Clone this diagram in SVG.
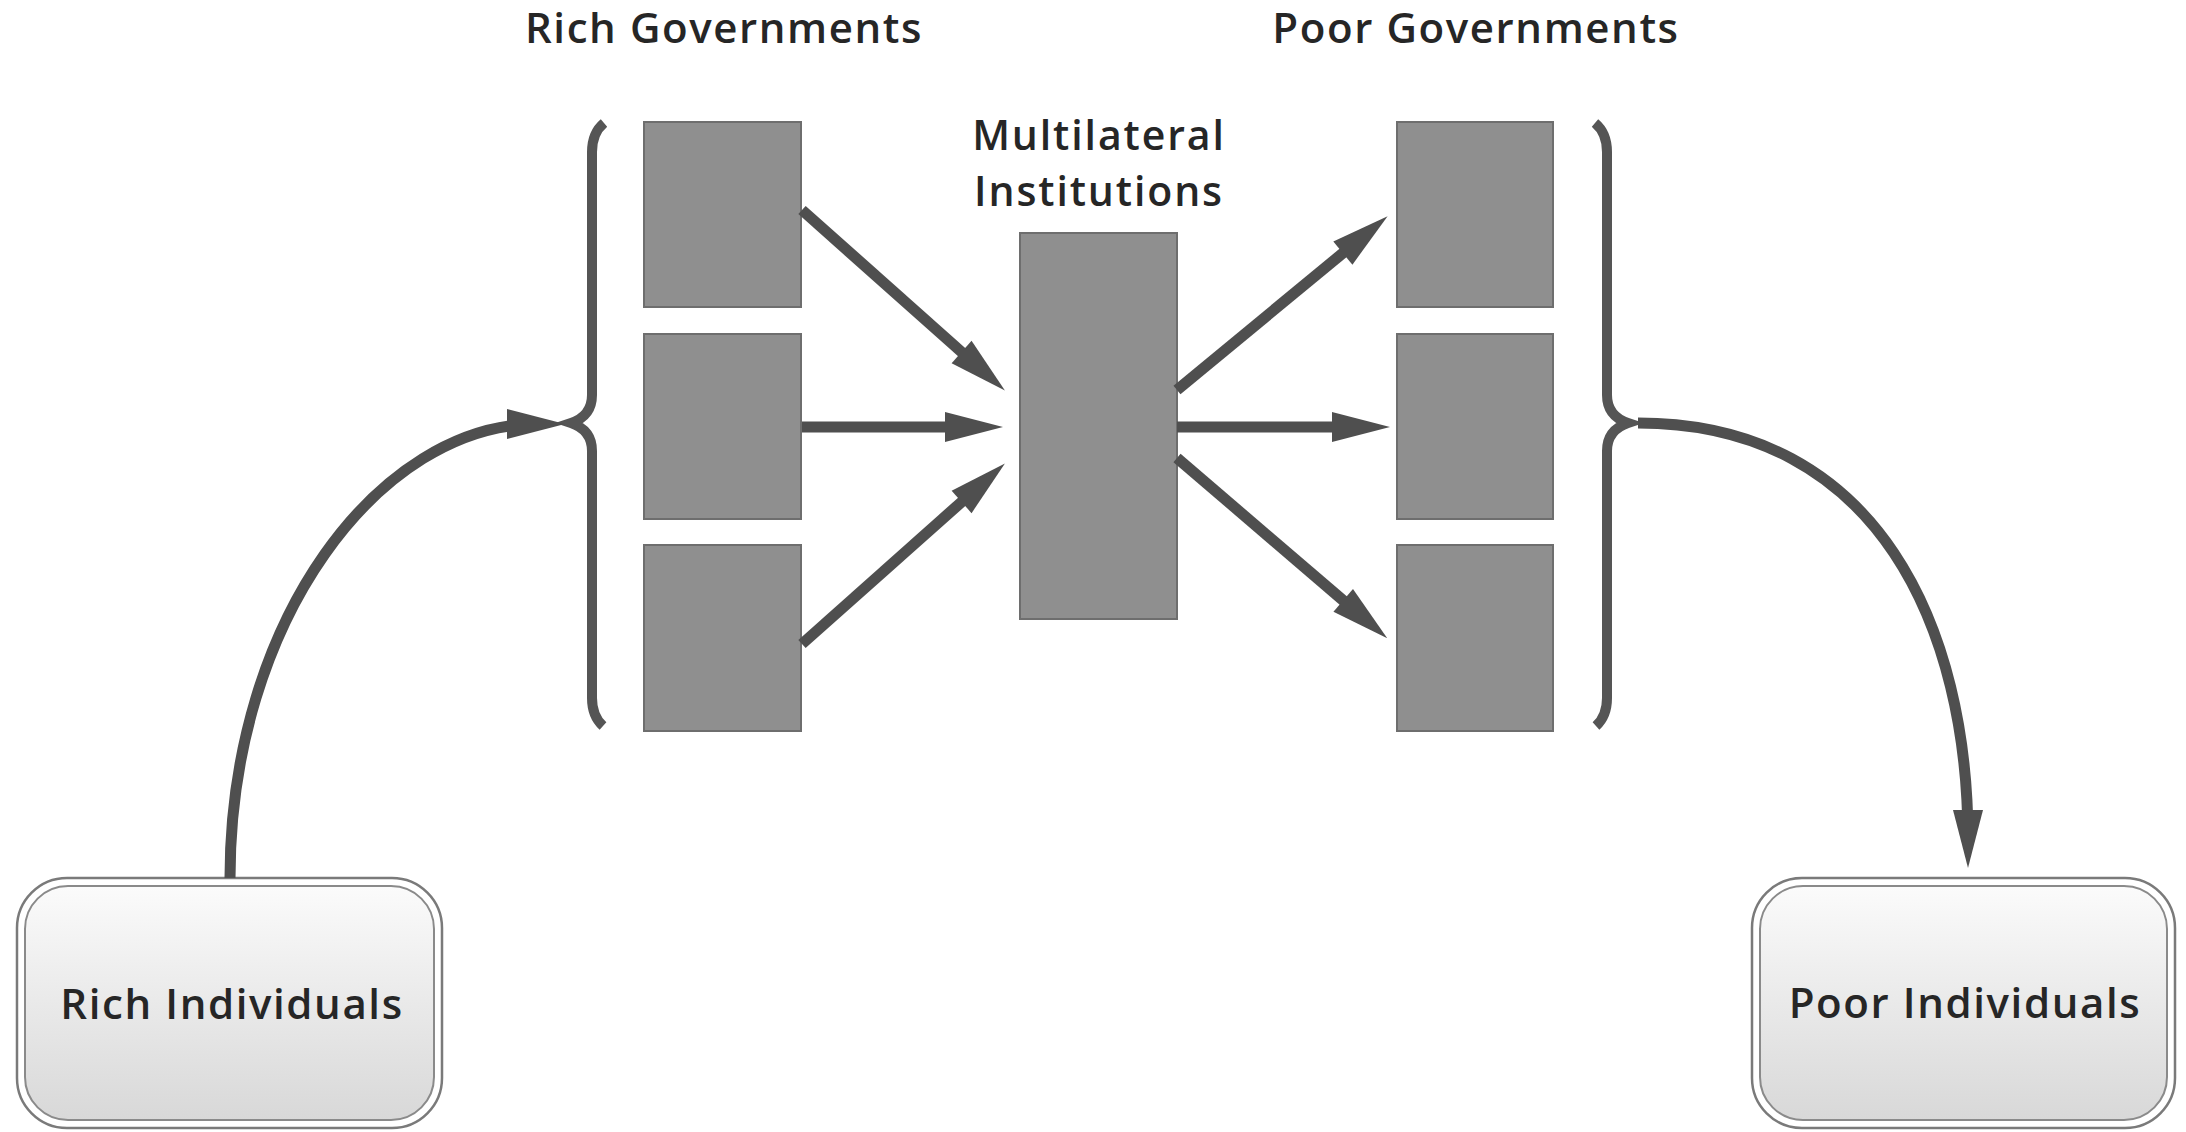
<svg xmlns="http://www.w3.org/2000/svg" width="2186" height="1132" viewBox="0 0 2186 1132">
  <style>
    .lbl { font-family: "Open Sans", "DejaVu Sans", sans-serif; font-size: 42px; font-weight: 600; fill: #262626; letter-spacing: 1.6px; text-anchor: middle; }
    .ml { font-size: 41px; letter-spacing: 1.9px; }
    .gov { fill: #8f8f8f; stroke: #6e6e6e; stroke-width: 2; }
    .brace { fill: none; stroke: #555; stroke-width: 10; }
    .conn { fill: none; stroke: #4f4f4f; stroke-width: 11; marker-end: url(#ah); }
    .outer { fill: none; stroke: #7a7a7a; stroke-width: 2.5; }
    .inner { fill: url(#g); stroke: #8a8a8a; stroke-width: 2; }
  </style>
  <defs>
    <marker id="ah" markerUnits="userSpaceOnUse" markerWidth="60" markerHeight="32" refX="30" refY="15" orient="auto" overflow="visible">
      <path d="M0,0 L58,15 L0,30 Z" fill="#4f4f4f"/>
    </marker>
    <linearGradient id="g" x1="0" y1="0" x2="0" y2="1">
      <stop offset="0" stop-color="#fbfbfb"/>
      <stop offset="1" stop-color="#d8d8d8"/>
    </linearGradient>
  </defs>
  <rect width="2186" height="1132" fill="#fff"/>

  <g id="title-rich"><text class="lbl" x="724" y="43">Rich Governments</text></g>
  <g id="title-poor"><text class="lbl" x="1476" y="43">Poor Governments</text></g>

  <g id="brace-left"><path class="brace" d="M604,123 Q592,133 592,152 L592,395 Q592,416 571,423 Q592,430 592,451 L592,698 Q592,716 603,726"/></g>
  <g id="brace-right"><path class="brace" d="M1595,123 Q1607,133 1607,152 L1607,395 Q1607,416 1628,423 Q1607,430 1607,451 L1607,698 Q1607,716 1596,726"/></g>

  <g id="rich-gov-1"><rect class="gov" x="644" y="122" width="157" height="185"/></g>
  <g id="rich-gov-2"><rect class="gov" x="644" y="334" width="157" height="185"/></g>
  <g id="rich-gov-3"><rect class="gov" x="644" y="545" width="157" height="186"/></g>

  <g id="multilateral">
    <rect class="gov" x="1020" y="233" width="157" height="386"/>
    <text class="lbl ml" x="1099" y="150">Multilateral</text>
    <text class="lbl ml" x="1099" y="206">Institutions</text>
  </g>

  <g id="poor-gov-1"><rect class="gov" x="1397" y="122" width="156" height="185"/></g>
  <g id="poor-gov-2"><rect class="gov" x="1397" y="334" width="156" height="185"/></g>
  <g id="poor-gov-3"><rect class="gov" x="1397" y="545" width="156" height="186"/></g>

  <g id="rich-individuals">
    <rect class="outer" x="17" y="878" width="425" height="250" rx="50"/>
    <rect class="inner" x="25" y="886" width="409" height="234" rx="43"/>
    <text class="lbl" x="232" y="1019">Rich Individuals</text>
  </g>
  <g id="poor-individuals">
    <rect class="outer" x="1752" y="878" width="423" height="250" rx="50"/>
    <rect class="inner" x="1760" y="886" width="407" height="234" rx="43"/>
    <text class="lbl" x="1965" y="1018">Poor Individuals</text>
  </g>

  <g id="connectors">
    <path class="conn" d="M802,210 L984,372"/>
    <path class="conn" d="M802,427 L975,427"/>
    <path class="conn" d="M802,644 L984,482"/>
    <path class="conn" d="M1177,390 L1366,234"/>
    <path class="conn" d="M1177,427 L1362,427"/>
    <path class="conn" d="M1177,458 L1366,620"/>
    <path class="conn" d="M230,878 C230,620 380,424 537,424"/>
    <path class="conn" d="M1638,423 C1880,423 1968,630 1968,840"/>
  </g>
</svg>
